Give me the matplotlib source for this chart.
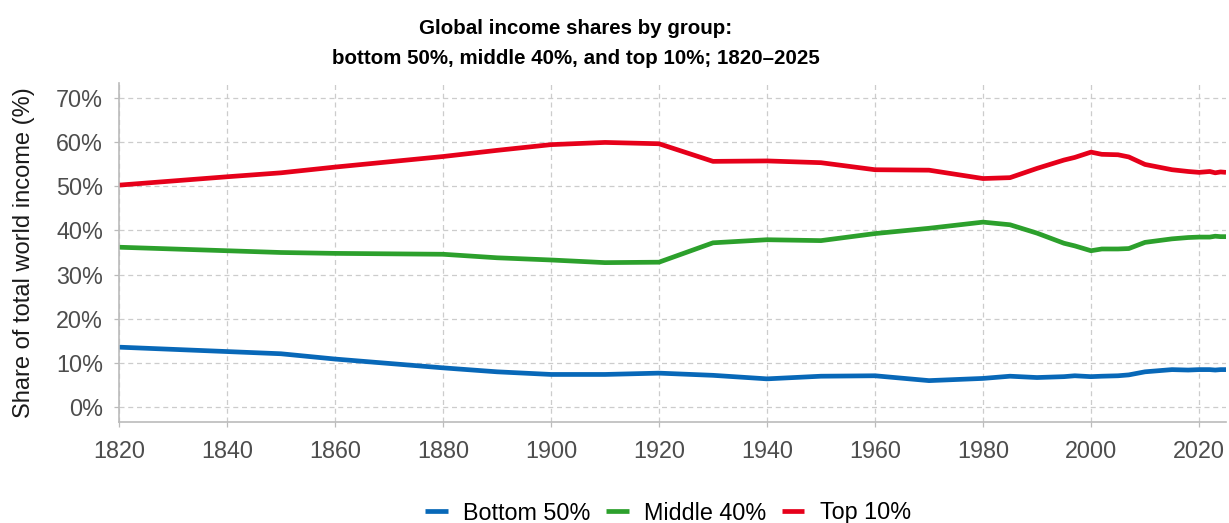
import matplotlib.pyplot as plt
from matplotlib.ticker import FuncFormatter

years = [1820, 1840, 1850, 1860, 1880, 1890, 1900, 1910, 1920, 1930, 1940, 1950,
         1960, 1970, 1980, 1985, 1990, 1995, 1997, 2000, 2002, 2005, 2007, 2010,
         2015, 2018, 2020, 2021, 2022, 2023, 2024, 2025]

bottom50 = [13.5, 12.5, 12.0, 10.8, 8.8, 7.9, 7.3, 7.3, 7.6, 7.1, 6.3, 6.9,
            7.0, 5.9, 6.4, 6.9, 6.6, 6.8, 7.0, 6.8, 6.9, 7.0, 7.2, 7.9,
            8.4, 8.3, 8.4, 8.4, 8.4, 8.3, 8.4, 8.4]
middle40 = [36.2, 35.4, 35.0, 34.8, 34.6, 33.8, 33.3, 32.7, 32.8, 37.2, 37.9, 37.7,
            39.3, 40.5, 41.9, 41.3, 39.4, 37.1, 36.5, 35.4, 35.8, 35.8, 35.9, 37.3,
            38.1, 38.4, 38.5, 38.5, 38.5, 38.7, 38.6, 38.6]
top10 = [50.3, 52.2, 53.1, 54.4, 56.8, 58.2, 59.5, 60.0, 59.7, 55.7, 55.8, 55.4,
         53.8, 53.7, 51.8, 52.0, 54.1, 56.0, 56.6, 57.8, 57.3, 57.2, 56.7, 55.0,
         53.8, 53.4, 53.2, 53.3, 53.4, 53.1, 53.3, 53.2]

series = [("Bottom 50%", bottom50, "#0868b8"),
          ("Middle 40%", middle40, "#2ca02c"),
          ("Top 10%", top10, "#e6001a")]

plt.rcParams['font.family'] = ['Liberation Sans', 'DejaVu Sans']

fig = plt.figure(figsize=(12.29, 5.23), dpi=100)
ax = fig.add_axes([119 / 1229, 1 - 422 / 523, (1226 - 119) / 1229, (422 - 83) / 523])

for name, vals, col in series:
    ax.plot(years, vals, color=col, lw=3.4, label=name, solid_capstyle='butt')

ax.set_xlim(1820, 2025)
ax.set_ylim(-3.5, 73.5)
ax.set_xticks(range(1820, 2021, 20))
ax.set_yticks(range(0, 71, 10))
ax.yaxis.set_major_formatter(FuncFormatter(lambda v, p: f"{v:.0f}%"))
ax.grid(True, color='#cccccc', ls=(0, (4, 3)), lw=0.9)
ax.set_axisbelow(True)
for s in ['top', 'right']:
    ax.spines[s].set_visible(False)
for s in ['left', 'bottom']:
    ax.spines[s].set_color('#bbbbbb')
    ax.spines[s].set_linewidth(1.2)
ax.tick_params(colors='#bbbbbb', labelcolor='#4d4d4d', labelsize=16.8, length=3.4, width=0.9)
ax.tick_params(axis='x', pad=9.5)
ax.tick_params(axis='y', pad=8)
ax.set_ylabel("Share of total world income (%)", fontsize=17, color='#1a1a1a')
ax.yaxis.set_label_coords(-0.0759, 0.5)

fig.text(576 / 1229, 1 - 19 / 523,
         "Global income shares by group:\nbottom 50%, middle 40%, and top 10%; 1820\u20132025",
         ha='center', va='top', fontsize=14.8, fontweight='bold', linespacing=1.75)

fig.legend(loc='center', bbox_to_anchor=(668 / 1229, 1 - 513 / 523), ncol=3,
           frameon=False, fontsize=16.8, handlelength=0.97, columnspacing=0.66,
           handletextpad=0.66)

fig.savefig("out.png", dpi=100)
